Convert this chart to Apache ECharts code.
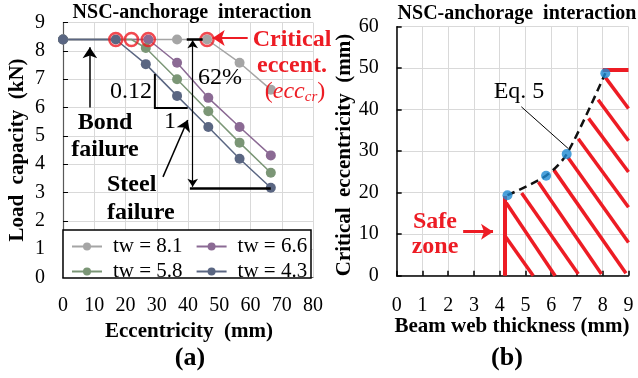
<!DOCTYPE html>
<html><head><meta charset="utf-8">
<script src="https://cdn.jsdelivr.net/npm/echarts@6/dist/echarts.min.js"></script>
<style>html,body{margin:0;padding:0;background:#fff}#c{width:638px;height:378px}</style>
</head><body><div id="c"></div>
<script>
const FONT = '"Liberation Serif","Times New Roman",serif';
const RED = '#ed1c24';

// ---------- Panel (a): load capacity vs eccentricity ----------
const twLabels = ['tw = 8.1', 'tw = 6.6', 'tw = 5.8', 'tw = 4.3'];
const twColors = ['#a5a5a5', '#8b6a94', '#7b9676', '#5a6682'];
const ecc81 = [0, 36.5, 46.1, 56.5, 66.5];
const load81 = [8.4, 8.4, 8.4, 7.58, 6.63];
const ecc66 = [0, 27.3, 36.5, 46.5, 56.5, 66.5];
const load66 = [8.4, 8.4, 7.58, 6.34, 5.31, 4.31];
const ecc58 = [0, 21.9, 26.5, 36.5, 46.5, 56.5, 66.5];
const load58 = [8.4, 8.4, 8.10, 7.0, 5.87, 4.76, 3.70];
const ecc43 = [0, 16.9, 26.5, 36.5, 46.5, 56.5, 66.5];
const load43 = [8.4, 8.4, 7.53, 6.41, 5.31, 4.19, 3.17];
const critEcc = [16.9, 21.9, 27.3, 46.1];
const critLoad = [8.4, 8.4, 8.4, 8.4];
const hiddenDot = {'tw = 5.8': 1};   // index of point whose marker is not drawn

// annotation geometry in data units of panel (a)
const arrowsA = [
  [8.6, 6.0, 8.6, 8.13],      // bond failure arrow
  [32.0, 3.55, 39.9, 5.56],   // steel failure arrow
];
const redArrowA = [59.1, 8.45, 47.9, 8.45];
const dblArrowA = [41.5, 8.37, 41.5, 3.2];
const barsA = [[39.6, 8.42, 44.7, 8.42], [40.6, 3.15, 66.5, 3.15]];
const slopeTri = [[29.4, 7.18], [29.4, 5.98], [39.9, 5.98]];

// ---------- Panel (b): critical eccentricity vs web thickness ----------
const webThick = [4.3, 5.8, 6.6, 8.1];
const critEccB = [19.4, 24.1, 29.3, 48.8];
const hatchX1 = [4.2, 4.25, 4.85, 5.5, 6.1, 6.65, 7.05, 7.45, 7.82, 8.1];
const hatchY1 = [9.6, 17.6, 19.9, 22.6, 25.5, 28.5, 33.0, 37.9, 42.4, 47.8];
const hatchX2 = [5.3, 6.15, 7.05, 7.95, 8.9, 9.0, 9.0, 9.0, 9.0, 9.0];
const hatchY2 = [0, 0, 0.4, 0.4, 0.6, 8.0, 16.5, 25.0, 32.5, 40.3];
const safeBorder = [[4.2, 0, 4.2, 19.2], [8.0, 49.7, 9.0, 49.7]];
const eqLeader = [4.84, 40.7, 6.65, 30.7];
const safeArrow = [2.58, 10.6, 3.74, 10.6];

const zip = (xs, ys) => xs.map((x, i) => [x, ys[i]]);
const seg = a => ({coords: [[a[0], a[1]], [a[2], a[3]]]});

const chart = echarts.init(document.getElementById('c'));
const tickLabel = {fontFamily: FONT, fontSize: 20, color: '#000'};
const split = {show: true, lineStyle: {color: '#d9d9d9', width: 1}};

const lineSeries = (name, xs, ys, color) => ({
  type: 'line', name, xAxisIndex: 0, yAxisIndex: 0,
  data: zip(xs, ys).map((p, i) => hiddenDot[name] === i ? {value: p, symbolSize: 0} : p),
  symbol: 'circle', symbolSize: 10, color,
  lineStyle: {color, width: 1.5}, itemStyle: {color}, z: 2
});

const txt = (text, x, y, o) => ({
  type: 'text', x, y, z: 10,
  style: Object.assign({text, fontFamily: FONT, fontSize: 24, fill: '#000',
    textAlign: 'center', textVerticalAlign: 'middle'}, o || {})
});

chart.setOption({
  animation: false,
  grid: [
    {left: 63, right: 325, top: 22.5, bottom: 100.5},
    {left: 396.7, right: 9.5, top: 26.7, bottom: 102.3}
  ],
  xAxis: [
    {type: 'value', gridIndex: 0, min: 0, max: 80, interval: 10,
     axisLine: {show: true, lineStyle: {color: '#595959'}}, axisTick: {show: false},
     axisLabel: Object.assign({margin: 18}, tickLabel), splitLine: split},
    {type: 'value', gridIndex: 1, min: 0, max: 9, interval: 1,
     axisLine: {show: true, onZero: false, lineStyle: {color: '#000', width: 1.5}},
     axisTick: {show: true, inside: true, length: 5, lineStyle: {color: '#000', width: 1.5}},
     axisLabel: Object.assign({margin: 20}, tickLabel), splitLine: split}
  ],
  yAxis: [
    {type: 'value', gridIndex: 0, min: 0, max: 9, interval: 1,
     axisLine: {show: true, lineStyle: {color: '#595959', width: 1.2}},
     axisTick: {show: true, inside: true, length: 5, lineStyle: {color: '#000'}},
     axisLabel: Object.assign({margin: 18}, tickLabel), splitLine: split},
    {type: 'value', gridIndex: 1, min: 0, max: 60, interval: 10,
     axisLine: {show: true, lineStyle: {color: '#000', width: 1.5}},
     axisTick: {show: true, inside: true, length: 5, lineStyle: {color: '#000', width: 1.5}},
     axisLabel: Object.assign({margin: 18}, tickLabel), splitLine: split}
  ],
  legend: [
    {data: [twLabels[0], twLabels[1]], left: 66, top: 231, itemGap: 13,
     itemWidth: 30, itemHeight: 10, z: 6,
     textStyle: {fontFamily: FONT, fontSize: 21, color: '#000', padding: [0, 0, 0, 6]}},
    {data: [twLabels[2], twLabels[3]], left: 66, top: 256, itemGap: 13,
     itemWidth: 30, itemHeight: 10, z: 6,
     textStyle: {fontFamily: FONT, fontSize: 21, color: '#000', padding: [0, 0, 0, 6]}}
  ],
  series: [
    lineSeries(twLabels[0], ecc81, load81, twColors[0]),
    lineSeries(twLabels[1], ecc66, load66, twColors[1]),
    lineSeries(twLabels[2], ecc58, load58, twColors[2]),
    lineSeries(twLabels[3], ecc43, load43, twColors[3]),
    {type: 'scatter', data: zip(critEcc, critLoad), symbol: 'circle', symbolSize: 13,
     itemStyle: {color: 'rgba(0,0,0,0)', borderColor: RED, borderWidth: 2.5}, z: 5},
    {type: 'lines', coordinateSystem: 'cartesian2d', xAxisIndex: 0, yAxisIndex: 0,
     data: arrowsA.map(seg), symbol: ['none', 'arrow'], symbolSize: 11,
     lineStyle: {color: '#000', width: 1.5, opacity: 1}, z: 6},
    {type: 'lines', coordinateSystem: 'cartesian2d', xAxisIndex: 0, yAxisIndex: 0,
     data: [seg(redArrowA)], symbol: ['none', 'arrow'], symbolSize: 12,
     lineStyle: {color: RED, width: 2, opacity: 1}, z: 6},
    {type: 'lines', coordinateSystem: 'cartesian2d', xAxisIndex: 0, yAxisIndex: 0,
     data: [seg(dblArrowA)], symbol: ['arrow', 'arrow'], symbolSize: 8,
     lineStyle: {color: '#000', width: 1.2, opacity: 1}, z: 6},
    {type: 'lines', coordinateSystem: 'cartesian2d', xAxisIndex: 0, yAxisIndex: 0,
     data: barsA.map(seg), lineStyle: {color: '#000', width: 2.5, opacity: 1}, z: 6},
    {type: 'lines', coordinateSystem: 'cartesian2d', xAxisIndex: 0, yAxisIndex: 0, polyline: true,
     data: [{coords: slopeTri}], lineStyle: {color: '#000', width: 2, opacity: 1}, z: 6},

    // panel (b)
    {type: 'lines', coordinateSystem: 'cartesian2d', xAxisIndex: 1, yAxisIndex: 1,
     data: hatchX1.map((x, i) => seg([x, hatchY1[i], hatchX2[i], hatchY2[i]])),
     lineStyle: {color: RED, width: 3.5, opacity: 1}, z: 3},
    {type: 'lines', coordinateSystem: 'cartesian2d', xAxisIndex: 1, yAxisIndex: 1,
     data: safeBorder.map(seg), lineStyle: {color: RED, width: 4, opacity: 1}, z: 3},
    {type: 'line', xAxisIndex: 1, yAxisIndex: 1, data: zip(webThick, critEccB),
     smooth: 0.3, symbol: 'none', lineStyle: {color: '#111', width: 2.5, type: [8, 5]}, z: 4},
    {type: 'scatter', xAxisIndex: 1, yAxisIndex: 1, data: zip(webThick, critEccB),
     symbol: 'circle', symbolSize: 10, itemStyle: {color: '#1e8ad2'}, z: 5},
    {type: 'lines', coordinateSystem: 'cartesian2d', xAxisIndex: 1, yAxisIndex: 1,
     data: [seg(eqLeader)], lineStyle: {color: '#000', width: 1, opacity: 1}, z: 6},
    {type: 'lines', coordinateSystem: 'cartesian2d', xAxisIndex: 1, yAxisIndex: 1,
     data: [seg(safeArrow)], symbol: ['none', 'arrow'], symbolSize: 12,
     lineStyle: {color: RED, width: 3, opacity: 1}, z: 6}
  ],
  graphic: [
    {type: 'rect', shape: {x: 63, y: 230, width: 248, height: 48}, z: 3,
     style: {fill: '#fff', stroke: '#000', lineWidth: 1.5}},
    txt('NSC-anchorage  interaction', 192, 13, {fontWeight: 'bold', fontSize: 20}),
    txt('NSC-anchorage  interaction', 517, 14, {fontWeight: 'bold', fontSize: 20}),
    Object.assign(txt('Load  capacity  (kN)', 18, 150, {fontWeight: 'bold', fontSize: 21}), {rotation: Math.PI / 2}),
    Object.assign(txt('Critical  eccentricity  (mm)', 345, 155, {fontWeight: 'bold', fontSize: 21}), {rotation: Math.PI / 2}),
    txt('Eccentricity  (mm)', 189, 332, {fontWeight: 'bold', fontSize: 21}),
    txt('Beam web thickness (mm)', 512, 327, {fontWeight: 'bold', fontSize: 21}),
    txt('(a)', 190, 358, {fontWeight: 'bold', fontSize: 26}),
    txt('(b)', 507, 358, {fontWeight: 'bold', fontSize: 26}),
    txt('Bond', 105, 123, {fontWeight: 'bold'}),
    txt('failure', 105, 150, {fontWeight: 'bold'}),
    txt('Steel', 107, 185, {fontWeight: 'bold', textAlign: 'left'}),
    txt('failure', 107, 213, {fontWeight: 'bold', textAlign: 'left'}),
    txt('0.12', 152, 92, {textAlign: 'right'}),
    txt('1', 170, 122),
    txt('62%', 220, 78),
    txt('Critical', 292, 40, {fontWeight: 'bold', fill: RED}),
    txt('eccent.', 292, 66, {fontWeight: 'bold', fill: RED}),
    txt('{p|(}{i|ecc}{s|cr}{p|)}', 295, 92, {fill: RED, rich: {
      p: {fontFamily: FONT, fontSize: 24, fill: RED},
      i: {fontFamily: FONT, fontSize: 24, fontStyle: 'italic', fill: RED},
      s: {fontFamily: FONT, fontSize: 15, fontStyle: 'italic', fill: RED, padding: [10, 0, 0, 0]}
    }}),
    txt('Eq. 5', 519, 92),
    txt('Safe', 435, 222, {fontWeight: 'bold', fill: RED}),
    txt('zone', 435, 247, {fontWeight: 'bold', fill: RED})
  ]
});
</script></body></html>
